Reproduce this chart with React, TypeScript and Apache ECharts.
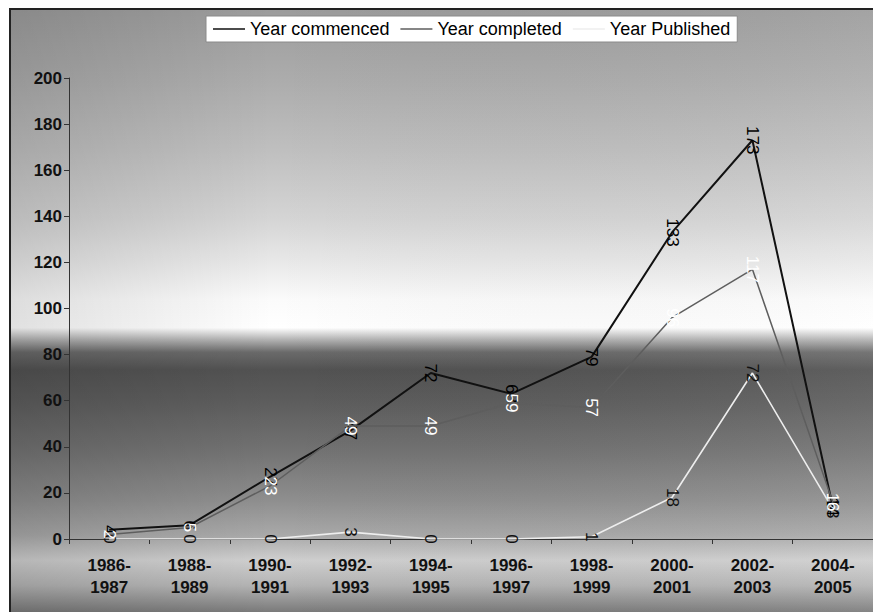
import React, { useEffect, useRef } from "react";
import * as echarts from "echarts";

const categories = [
  "1986-\n1987",
  "1988-\n1989",
  "1990-\n1991",
  "1992-\n1993",
  "1994-\n1995",
  "1996-\n1997",
  "1998-\n1999",
  "2000-\n2001",
  "2002-\n2003",
  "2004-\n2005",
];
const seriesNames = ["Year commenced", "Year completed", "Year Published"];
const commenced = [4, 6, 27, 47, 72, 63, 79, 133, 173, 14];
const completed = [2, 5, 23, 49, 49, 59, 57, 96, 117, 16];
const published = [0, 0, 0, 3, 0, 0, 1, 18, 72, 13];
const yTicks = { min: 0, max: 200, interval: 20 };

const FONT = "'Liberation Sans', Arial, sans-serif";

export default function App() {
  const ref = useRef<HTMLDivElement>(null);
  useEffect(() => {
    if (!ref.current) return;
    const chart = echarts.init(ref.current, undefined, { renderer: "svg" });
    const bgStops = [
      [0, "#9c9c9c"],
      [0.115, "#acacac"],
      [0.23, "#bfbfbf"],
      [0.344, "#d5d5d5"],
      [0.426, "#ececec"],
      [0.475, "#fbfbfb"],
      [0.521, "#ffffff"],
      [0.541, "#b0b0b0"],
      [0.561, "#6a6a6a"],
      [0.59, "#525252"],
      [0.639, "#5c5c5c"],
      [0.721, "#727272"],
      [0.803, "#8e8e8e"],
      [0.861, "#a9a9a9"],
      [0.902, "#cfcfcf"],
      [0.943, "#b4b4b4"],
      [0.987, "#7a7a7a"],
      [1, "#707070"],
    ].map(([offset, color]) => ({ offset: offset as number, color: color as string }));

    const labelBase = {
      show: true,
      position: "inside" as const,
      rotate: -90,
      fontFamily: FONT,
      fontSize: 17,
    };

    const makeSeries = (
      name: string,
      data: number[],
      lineColor: string,
      width: number,
      labelColor: string,
      z: number
    ) => ({
      name,
      type: "line",
      data,
      z,
      symbol: "circle",
      symbolSize: 0.01,
      color: lineColor,
      itemStyle: { color: lineColor },
      lineStyle: { color: lineColor, width },
      label: { ...labelBase, color: labelColor },
      emphasis: { disabled: true },
    });

    chart.setOption({
      animation: false,
      backgroundColor: new echarts.graphic.LinearGradient(0, 0, 0, 1, bgStops),
      graphic: [
        {
          type: "rect",
          z: -1,
          silent: true,
          shape: { x: 0, y: 0, width: 870, height: 610 },
          style: {
            fill: new echarts.graphic.LinearGradient(0, 0, 1, 0, [
              { offset: 0, color: "rgba(0,0,0,0.12)" },
              { offset: 0.3, color: "rgba(0,0,0,0)" },
              { offset: 1, color: "rgba(255,255,255,0.08)" },
            ]),
          },
        },
      ],
      legend: {
        data: seriesNames,
        left: 195,
        top: 6,
        orient: "horizontal",
        backgroundColor: "#ffffff",
        borderColor: "#8a8a8a",
        borderWidth: 1,
        padding: [4, 7, 4, 7],
        itemGap: 11,
        itemWidth: 32,
        itemHeight: 1.5,
        icon: "rect",
        textStyle: { fontFamily: FONT, fontSize: 18, color: "#000" },
        selectedMode: false,
      },
      grid: { left: 58, right: 8, top: 68, bottom: 81, containLabel: false },
      xAxis: {
        type: "category",
        data: categories,
        boundaryGap: true,
        axisLine: { show: true, lineStyle: { color: "#333", width: 1 } },
        axisTick: { show: true, length: 5, inside: false, lineStyle: { color: "#333" } },
        axisLabel: {
          fontFamily: FONT,
          fontSize: 17,
          fontWeight: "bold",
          color: "#111",
          lineHeight: 22,
          margin: 15,
          interval: 0,
        },
        splitLine: { show: false },
      },
      yAxis: {
        type: "value",
        min: yTicks.min,
        max: yTicks.max,
        interval: yTicks.interval,
        axisLine: { show: true, lineStyle: { color: "#333", width: 1 } },
        axisTick: { show: true, length: 5, inside: false, lineStyle: { color: "#333" } },
        axisLabel: {
          fontFamily: FONT,
          fontSize: 17,
          fontWeight: "bold",
          color: "#111",
          margin: 7,
        },
        splitLine: { show: false },
      },
      series: [
        makeSeries(seriesNames[0], commenced, "#111111", 2, "#000000", 4),
        makeSeries(seriesNames[1], completed, "#5e5e5e", 1.5, "#ffffff", 5),
        makeSeries(seriesNames[2], published, "#eeeeee", 1.6, "#111111", 3),
      ],
    });
    return () => chart.dispose();
  }, []);

  return (
    <div
      style={{
        position: "fixed",
        left: 0,
        top: 0,
        width: 873,
        height: 612,
        overflow: "hidden",
        background: "#ffffff",
      }}
    >
      <div
        style={{
          position: "absolute",
          left: 9,
          top: 8,
          width: 870,
          height: 610,
          borderLeft: "2px solid #222",
          borderTop: "2px solid #222",
        }}
      >
        <div ref={ref} style={{ width: 870, height: 610 }} />
      </div>
    </div>
  );
}
